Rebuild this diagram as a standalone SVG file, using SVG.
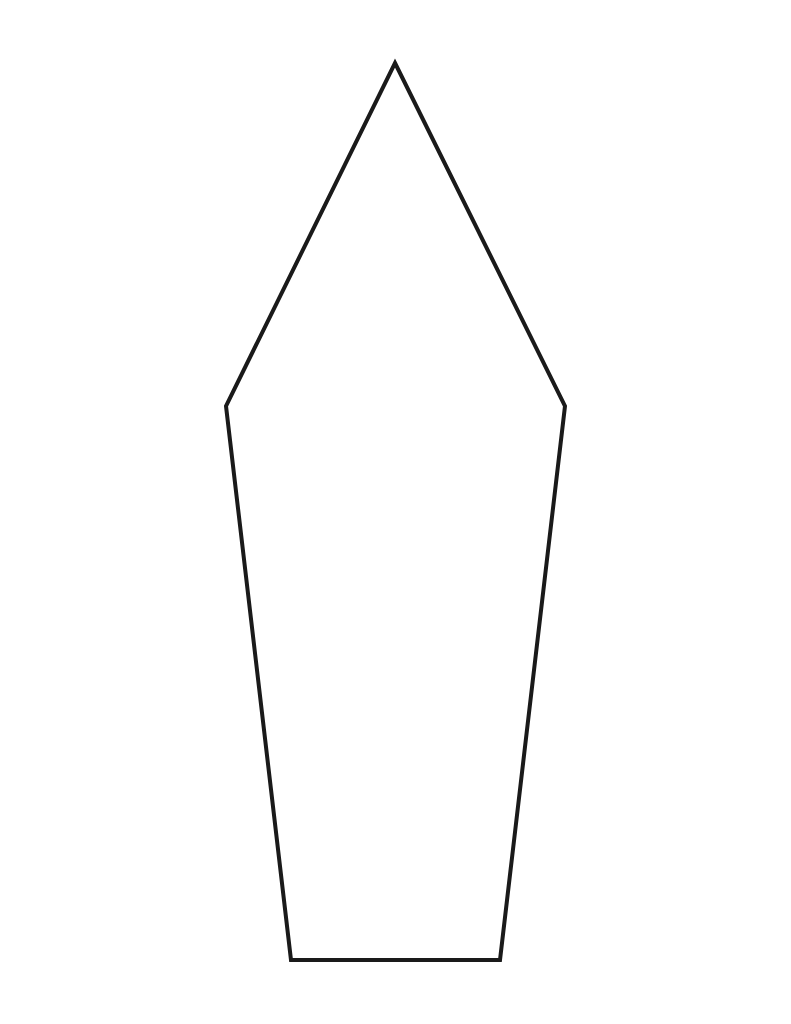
<svg xmlns="http://www.w3.org/2000/svg" width="791" height="1024" viewBox="0 0 791 1024">
<style>.shape{fill:#ffffff;stroke:#1a1a1a;stroke-width:4;stroke-linejoin:miter}</style>
<rect width="791" height="1024" fill="#ffffff"/>
<g id="pentagon">
<polygon class="shape" points="395,63 565,406 500,960 291,960 226,406"/>
</g>
</svg>
